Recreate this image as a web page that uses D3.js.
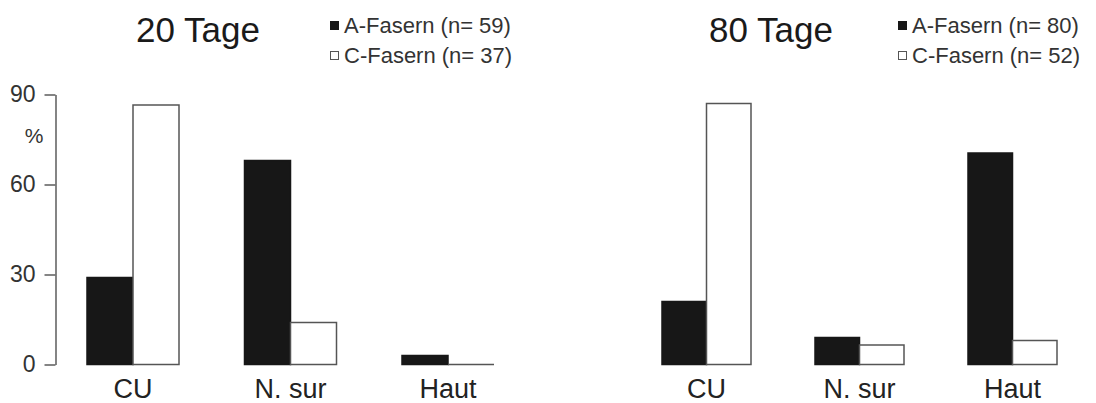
<!DOCTYPE html>
<html><head><meta charset="utf-8">
<script src="https://cdn.jsdelivr.net/npm/d3@7"></script>
<style>body{margin:0;background:#fff}svg{display:block}text{font-family:"Liberation Sans",Arial,sans-serif}</style>
</head><body>
<svg id="c" width="1096" height="403"></svg>
<script>
const categories = ["CU", "N. sur", "Haut"];
const series = ["A", "C"];
const titles = ["20 Tage", "80 Tage"];
const a20 = [29, 68, 3];
const c20 = [86.5, 14, 0];
const a80 = [21, 9, 70.5];
const c80 = [87, 6.5, 8];
const legend20 = ["A-Fasern (n= 59)", "C-Fasern (n= 37)"];
const legend80 = ["A-Fasern (n= 80)", "C-Fasern (n= 52)"];
const yTicks = [0, 30, 60, 90];
const yUnit = "%";

const svg = d3.select("#c");
const y = d3.scaleLinear().domain([0, 90]).range([364.5, 94.5]);
const fills = {A: "#171717", C: "#ffffff"};

const panels = [
  {title: titles[0], A: a20, C: c20, legend: legend20, range: [87, 87 + 2*157.5 + 92], pad: 1 - 92/157.5, titleX: 198, legX: 330},
  {title: titles[1], A: a80, C: c80, legend: legend80, range: [662, 662 + 2*153 + 89], pad: 1 - 89/153, titleX: 771, legX: 898}
];

// axis
const axis = d3.axisLeft(y).tickValues(yTicks).tickSize(11).tickSizeOuter(0).tickPadding(9);
const ag = svg.append("g").attr("transform", "translate(55.5,0)").call(axis);
ag.selectAll("path,line").attr("stroke", "#666").attr("stroke-width", 1.6);
ag.selectAll("text").attr("font-size", 23).attr("fill", "#333").attr("font-family", '"Liberation Sans",Arial,sans-serif');
svg.append("text").attr("x", 34).attr("y", 143).attr("text-anchor", "middle")
  .attr("font-size", 21).attr("fill", "#333").text(yUnit);

panels.forEach(p => {
  const x = d3.scaleBand().domain(categories).range(p.range).paddingInner(p.pad).paddingOuter(0);
  const xs = d3.scaleBand().domain(series).range([0, x.bandwidth()]);
  const g = svg.append("g");
  categories.forEach((cat, i) => {
    series.forEach(s => {
      const v = p[s][i];
      const stroke = s === "A" ? "#171717" : "#555";
      if (v === 0) {
        g.append("line")
          .attr("x1", x(cat) + xs(s)).attr("x2", x(cat) + xs(s) + xs.bandwidth())
          .attr("y1", y(0)).attr("y2", y(0))
          .attr("stroke", stroke).attr("stroke-width", 1.5);
      } else {
        g.append("rect")
          .attr("x", x(cat) + xs(s))
          .attr("y", y(v))
          .attr("width", xs.bandwidth())
          .attr("height", y(0) - y(v))
          .attr("fill", fills[s])
          .attr("stroke", stroke)
          .attr("stroke-width", 1.5);
      }
    });
    g.append("text").attr("x", x(cat) + x.bandwidth()/2).attr("y", 398)
      .attr("text-anchor", "middle").attr("font-size", 27).attr("fill", "#222").text(cat);
  });
  svg.append("text").attr("x", p.titleX).attr("y", 42).attr("text-anchor", "middle")
    .attr("font-size", 35).attr("fill", "#1a1a1a").text(p.title);
  p.legend.forEach((t, i) => {
    const ly = 33 + i * 30;
    svg.append("rect").attr("x", p.legX + 0.5).attr("y", ly - 11.5).attr("width", 8).attr("height", 8)
      .attr("fill", fills[series[i]]).attr("stroke", i === 0 ? "#171717" : "#555").attr("stroke-width", 1);
    svg.append("text").attr("x", p.legX + 14).attr("y", ly).attr("font-size", 22).attr("fill", "#333").text(t);
  });
});
</script>
</body></html>
